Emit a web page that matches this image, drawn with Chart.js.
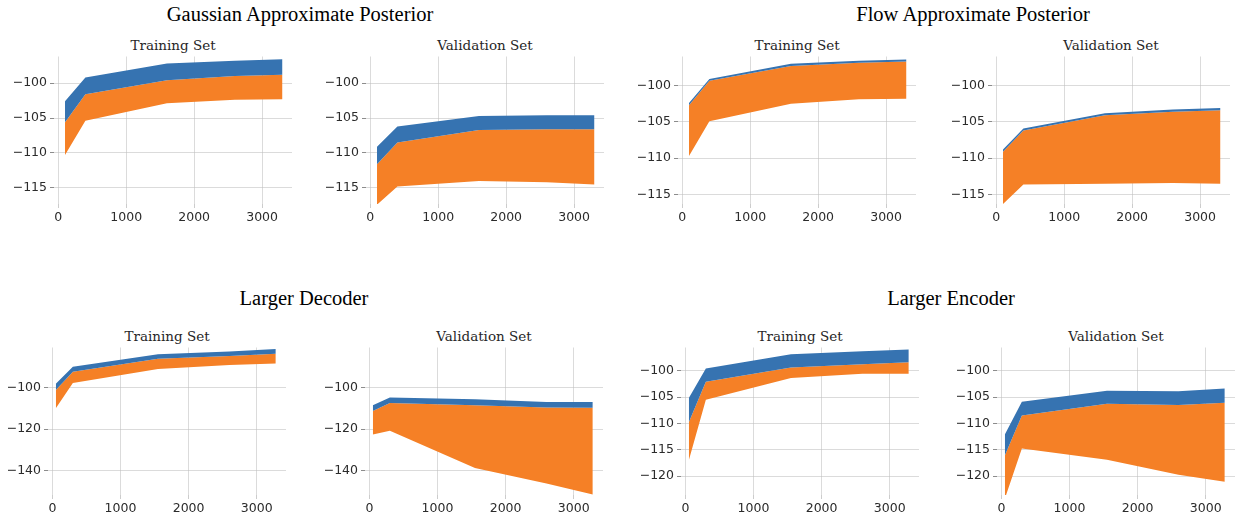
<!DOCTYPE html>
<html>
<head>
<meta charset="utf-8">
<script src="https://cdn.jsdelivr.net/npm/chart.js@4.4.1/dist/chart.umd.min.js"></script>
<style>
  body { margin: 0; background: #fff; }
  #fig { position: relative; width: 1238px; height: 521px; overflow: hidden; }
  #fig canvas { position: absolute; }
  .sup { position: absolute; font-family: "Liberation Serif", serif; font-size: 20.5px; line-height: 1; transform: translateX(-50%); white-space: nowrap; color: #000; }
  .sub { position: absolute; font-family: "DejaVu Serif", serif; font-size: 13.5px; line-height: 1; transform: translateX(-50%); white-space: nowrap; color: #262626; }
</style>
</head>
<body>
<div id="fig"></div>
<script>
// x positions (training set size)
const xTop = [100, 400, 1600, 2600, 3300];
const xBottom = [50, 300, 1550, 2600, 3280];
const xTicks = [0, 1000, 2000, 3000];

// y tick labels
const ticksBy5 = [-115, -110, -105, -100];
const ticksDecoder = [-140, -120, -100];
const ticksEncoder = [-120, -115, -110, -105, -100];

// Gaussian approximate posterior
const gaussTrainHi  = [-102.6, -99.2, -97.2, -96.8, -96.6];
const gaussTrainMid = [-105.6, -101.6, -99.6, -99.0, -98.8];
const gaussTrainLo  = [-110.3, -105.4, -102.9, -102.4, -102.3];
const gaussValHi  = [-109.1, -106.2, -104.7, -104.6, -104.6];
const gaussValMid = [-111.6, -108.5, -106.7, -106.6, -106.6];
const gaussValLo  = [-117.4, -114.8, -114.0, -114.2, -114.5];

// Flow approximate posterior
const flowTrainHi  = [-102.4, -99.1, -97.0, -96.6, -96.4];
const flowTrainMid = [-102.7, -99.35, -97.3, -96.85, -96.7];
const flowTrainLo  = [-109.7, -104.9, -102.5, -101.9, -101.8];
const flowValHi  = [-108.8, -105.9, -103.8, -103.3, -103.1];
const flowValMid = [-109.1, -106.2, -104.1, -103.6, -103.4];
const flowValLo  = [-116.3, -113.6, -113.5, -113.4, -113.5];

// Larger decoder
const decTrainHi  = [-98.0, -89.8, -83.8, -82.4, -81.2];
const decTrainMid = [-101.1, -92.2, -85.9, -84.6, -83.5];
const decTrainLo  = [-109.9, -97.6, -90.9, -88.9, -88.2];
const decValHi  = [-108.4, -104.7, -105.5, -106.8, -106.8];
const decValMid = [-111.2, -107.3, -108.4, -109.5, -109.6];
const decValLo  = [-122.6, -120.7, -138.7, -146.3, -151.5];

// Larger encoder
const encTrainHi  = [-105.2, -99.6, -96.9, -96.3, -96.0];
const encTrainMid = [-109.8, -102.1, -99.4, -98.8, -98.4];
const encTrainLo  = [-117.0, -105.5, -101.4, -100.6, -100.6];
const encValHi  = [-112.1, -105.9, -103.8, -103.9, -103.4];
const encValMid = [-116.1, -108.5, -106.3, -106.5, -106.1];
const encValLo  = [-124.3, -114.75, -116.9, -119.75, -121.1];

const blue = '#3673b1';
const orange = '#f58026';
const fig = document.getElementById('fig');

const panels = [
  { title: 'Training Set',   left: 54,  top: 56,  xs: xTop, hi: gaussTrainHi, mid: gaussTrainMid, lo: gaussTrainLo, xr: [-62, 3440], yr: [-117.3, -96.2], yt: ticksBy5 },
  { title: 'Validation Set', left: 366, top: 56,  xs: xTop, hi: gaussValHi,   mid: gaussValMid,   lo: gaussValLo,   xr: [-62, 3440], yr: [-117.3, -96.2], yt: ticksBy5 },
  { title: 'Training Set',   left: 678, top: 56,  xs: xTop, hi: flowTrainHi,  mid: flowTrainMid,  lo: flowTrainLo,  xr: [-62, 3440], yr: [-116.3, -96.0], yt: ticksBy5 },
  { title: 'Validation Set', left: 992, top: 56,  xs: xTop, hi: flowValHi,    mid: flowValMid,    lo: flowValLo,    xr: [-62, 3440], yr: [-116.3, -96.0], yt: ticksBy5 },
  { title: 'Training Set',   left: 48,  top: 347, xs: xBottom, hi: decTrainHi, mid: decTrainMid, lo: decTrainLo, xr: [-65, 3430], yr: [-151.8, -80.5], yt: ticksDecoder },
  { title: 'Validation Set', left: 365, top: 347, xs: xBottom, hi: decValHi,   mid: decValMid,   lo: decValLo,   xr: [-65, 3430], yr: [-151.8, -80.5], yt: ticksDecoder },
  { title: 'Training Set',   left: 681, top: 347, xs: xBottom, hi: encTrainHi, mid: encTrainMid, lo: encTrainLo, xr: [-65, 3430], yr: [-123.6, -95.6], yt: ticksEncoder },
  { title: 'Validation Set', left: 997, top: 347, xs: xBottom, hi: encValHi,   mid: encValMid,   lo: encValLo,   xr: [-65, 3430], yr: [-123.6, -95.6], yt: ticksEncoder }
];

const supTitles = [
  { text: 'Gaussian Approximate Posterior', x: 300, top: 4 },
  { text: 'Flow Approximate Posterior', x: 973, top: 4 },
  { text: 'Larger Decoder', x: 304, top: 288 },
  { text: 'Larger Encoder', x: 951, top: 288 }
];

supTitles.forEach(t => {
  const d = document.createElement('div');
  d.className = 'sup';
  d.textContent = t.text;
  d.style.left = t.x + 'px';
  d.style.top = t.top + 'px';
  fig.appendChild(d);
});

const minus = v => (v < 0 ? '\u2212' + Math.abs(v) : String(v));
const tickFont = { family: 'DejaVu Sans', size: 12.5 };

function drawPanel(p) {
  const plotW = 238, plotH = 148;
  const yW = 52, padT = 10, padR = 12, xH = 24;

  const sub = document.createElement('div');
  sub.className = 'sub';
  sub.textContent = p.title;
  sub.style.left = (p.left + plotW / 2) + 'px';
  sub.style.top = (p.top - 17) + 'px';
  fig.appendChild(sub);

  const cv = document.createElement('canvas');
  cv.width = yW + plotW + padR;
  cv.height = padT + plotH + xH;
  cv.style.left = (p.left - yW) + 'px';
  cv.style.top = (p.top - padT) + 'px';
  fig.appendChild(cv);

  const pts = arr => p.xs.map((x, i) => ({ x: x, y: arr[i] }));

  new Chart(cv, {
    type: 'line',
    data: {
      datasets: [
        { data: pts(p.hi), fill: '+1', backgroundColor: blue, borderWidth: 0, pointRadius: 0, tension: 0 },
        { data: pts(p.mid), fill: '+1', backgroundColor: orange, borderWidth: 0, pointRadius: 0, tension: 0 },
        { data: pts(p.lo), fill: false, borderWidth: 0, pointRadius: 0, tension: 0 }
      ]
    },
    options: {
      responsive: false,
      animation: false,
      devicePixelRatio: 1,
      layout: { padding: { top: padT, right: padR, left: 0, bottom: 0 } },
      plugins: { legend: { display: false }, tooltip: { enabled: false } },
      scales: {
        x: {
          type: 'linear',
          min: p.xr[0],
          max: p.xr[1],
          z: 1,
          border: { display: false },
          grid: { color: 'rgba(190,190,190,0.55)', tickColor: 'rgba(0,0,0,0.2)', tickLength: 4 },
          ticks: { font: tickFont, color: '#2b2b2b', padding: 2, maxRotation: 0, callback: v => String(v) },
          afterBuildTicks: s => { s.ticks = xTicks.map(v => ({ value: v })); },
          afterFit: s => { s.height = xH; }
        },
        y: {
          min: p.yr[0],
          max: p.yr[1],
          z: 1,
          border: { display: false },
          grid: { color: 'rgba(190,190,190,0.55)', tickColor: 'rgba(0,0,0,0.45)', tickLength: 4 },
          ticks: { font: tickFont, color: '#2b2b2b', padding: 3, callback: v => minus(v) },
          afterBuildTicks: s => { s.ticks = p.yt.map(v => ({ value: v })); },
          afterFit: s => { s.width = yW; }
        }
      }
    }
  });
}

panels.forEach(drawPanel);
</script>
</body>
</html>
